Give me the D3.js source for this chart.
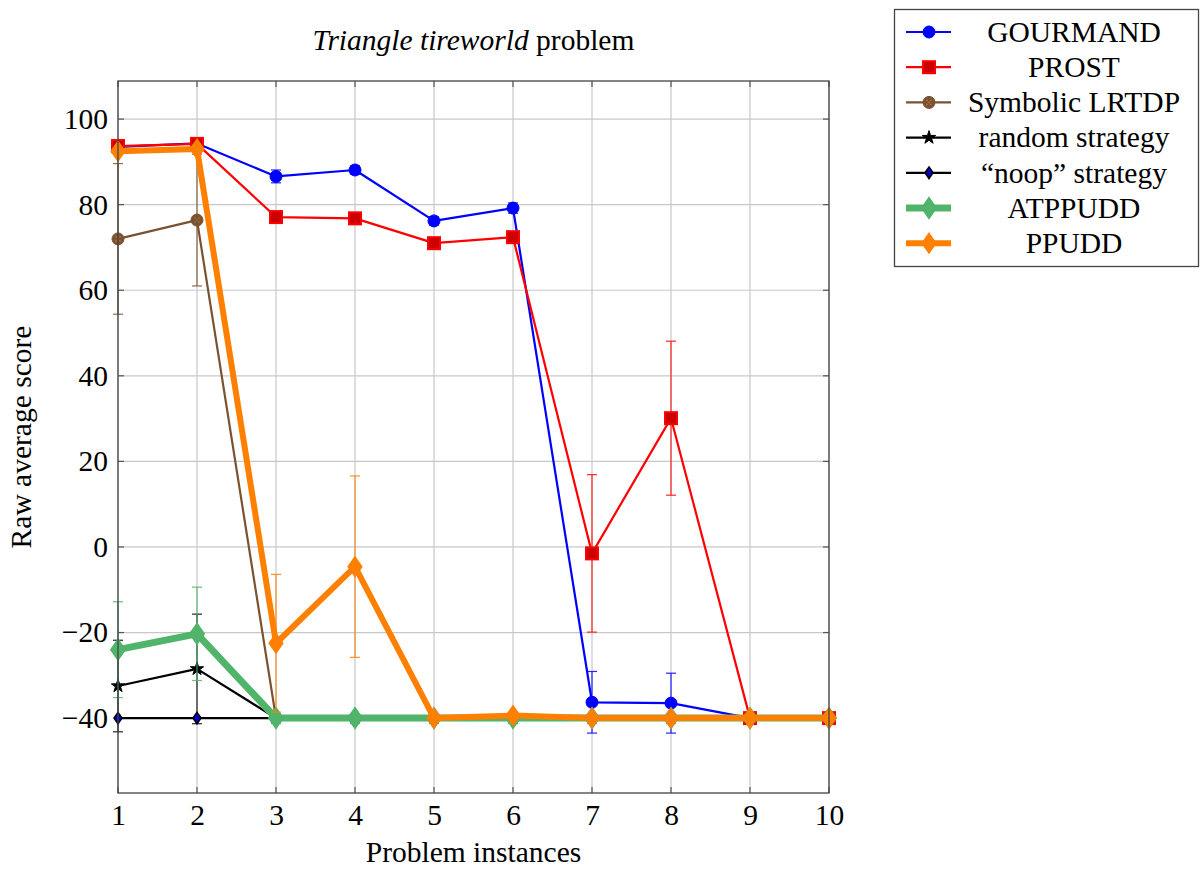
<!DOCTYPE html>
<html><head><meta charset="utf-8">
<script src="https://cdn.jsdelivr.net/npm/d3@7/dist/d3.min.js"></script>
<style>body{margin:0;background:#fff;} svg{display:block;} text{font-family:"Liberation Serif","DejaVu Serif",serif;}</style>
</head><body><svg id="c" width="1200" height="870"></svg>
<script>
const instances = [1,2,3,4,5,6,7,8,9,10];
const yTicks = [-40,-20,0,20,40,60,80,100];
const gourmand    = [93.5, 94.3, 86.6, 88.1, 76.2, 79.2, -36.3, -36.5, -40, -40];
const gourmandErr = [0.5, 0.5, 1.5, 1.0, 1.0, 1.2, 7.2, 7.0, 0, 0];
const prost       = [93.7, 94.2, 77.1, 76.8, 71.0, 72.4, -1.5, 30.1, -40, -40];
const prostErr    = [0.5, 0.5, 1.0, 0.8, 1.0, 1.0, 18.4, 18.0, 0, 0];
const lrtdp       = [72.0, 76.4, -40, -40, -40, -40, -40, -40, -40, -40];
const lrtdpErr    = [17.6, 15.4, 0, 0, 0, 0, 0, 0, 0, 0];
const randomS     = [-32.5, -28.5, -40, -40, -40, -40, -40, -40, -40, -40];
const randomErr   = [10.7, 12.8, 0, 0, 0, 0, 0, 0, 0, 0];
const noop        = [-40, -40, -40, -40, -40, -40, -40, -40, -40, -40];
const noopErr     = [0, 0, 0, 0, 0, 0, 0, 0, 0, 0];
const atppudd     = [-24.0, -20.3, -40, -40, -40, -40, -40, -40, -40, -40];
const atppuddErr  = [11.2, 10.9, 0, 0, 0, 0, 0, 0, 0, 0];
const ppudd       = [92.5, 93.0, -22.5, -4.6, -40, -39.4, -40, -40, -40, -40];
const ppuddErr    = [0.5, 0.5, 16.1, 21.2, 0, 0.5, 0, 0, 0, 0];

const series = [
  {name:"GOURMAND", v:gourmand, e:gourmandErr, color:"#0000ff", lw:2.2, marker:"circle", mfill:"#0000ff", mstroke:"#0000ff", ms:6},
  {name:"PROST", v:prost, e:prostErr, color:"#ff0000", lw:2.2, marker:"square", mfill:"#cc0000", mstroke:"#ff0000", ms:6},
  {name:"Symbolic LRTDP", v:lrtdp, e:lrtdpErr, color:"#7a5230", lw:2.2, marker:"dotcircle", mfill:"#7a5230", mstroke:"#7a5230", ms:6},
  {name:"random strategy", v:randomS, e:randomErr, color:"#000000", lw:2.2, marker:"star", mfill:"#000", mstroke:"#000", ms:5},
  {name:"\u201Cnoop\u201D strategy", v:noop, e:noopErr, color:"#000000", lw:2.2, marker:"diamond", mfill:"#0000cc", mstroke:"#000", ms:5},
  {name:"ATPPUDD", v:atppudd, e:atppuddErr, color:"#50b46a", lw:7, marker:"diamond", mfill:"#50b46a", mstroke:"#50b46a", ms:9},
  {name:"PPUDD", v:ppudd, e:ppuddErr, color:"#ff8000", lw:6, marker:"diamond", mfill:"#ff8000", mstroke:"#ff8000", ms:8.5}
];

const FS = 29.5;
const svg = d3.select("#c");
const L=118, R=829, T=81, B=793;
const x = d3.scaleLinear().domain([1,10]).range([L,R]);
const y = d3.scaleLinear().domain([-57.5,108.9]).range([B,T]);

// grid
const g = svg.append("g");
g.selectAll(".gx").data(instances).join("line").attr("x1",d=>x(d)).attr("x2",d=>x(d)).attr("y1",T).attr("y2",B).attr("stroke","#c8c8c8").attr("stroke-width",1.2);
g.selectAll(".gy").data(yTicks).join("line").attr("x1",L).attr("x2",R).attr("y1",d=>y(d)).attr("y2",d=>y(d)).attr("stroke","#c8c8c8").attr("stroke-width",1.2);

// axes via d3
const fmt = d => d<0 ? "\u2212"+Math.abs(d) : String(d);
const xAxis = svg.append("g").attr("transform",`translate(0,${B})`).call(d3.axisBottom(x).tickValues(instances).tickSize(0).tickPadding(9).tickFormat(d=>d));
const yAxis = svg.append("g").attr("transform",`translate(${L},0)`).call(d3.axisLeft(y).tickValues(yTicks).tickSize(0).tickPadding(10).tickFormat(fmt));
[xAxis,yAxis].forEach(a=>{a.select(".domain").remove(); a.selectAll("text").attr("font-size",FS).attr("fill","#000").style("font-family","'Liberation Serif',serif");});
xAxis.selectAll("text").attr("dy","0.78em");
// inner ticks
const tk = svg.append("g").attr("stroke","#555").attr("stroke-width",1.2);
instances.forEach(d=>{tk.append("line").attr("x1",x(d)).attr("x2",x(d)).attr("y1",B).attr("y2",B-6);tk.append("line").attr("x1",x(d)).attr("x2",x(d)).attr("y1",T).attr("y2",T+6);});
yTicks.forEach(d=>{tk.append("line").attr("x1",L).attr("x2",L+6).attr("y1",y(d)).attr("y2",y(d));tk.append("line").attr("x1",R).attr("x2",R-6).attr("y1",y(d)).attr("y2",y(d));});

function drawMarker(sel, s, cx, cy, scale){
  const k = scale||1, ms = s.ms*k;
  if(s.marker==="circle"){
    sel.append("circle").attr("cx",cx).attr("cy",cy).attr("r",ms).attr("fill",s.mfill).attr("stroke",s.mstroke);
  } else if(s.marker==="dotcircle"){
    sel.append("circle").attr("cx",cx).attr("cy",cy).attr("r",ms).attr("fill",s.mfill).attr("stroke",s.mstroke);
    [[-2,-2],[2,-2],[0,0],[-2,2],[2,2]].forEach(p=>sel.append("circle").attr("cx",cx+p[0]*k).attr("cy",cy+p[1]*k).attr("r",0.8*k).attr("fill","#a87a4a"));
  } else if(s.marker==="square"){
    sel.append("rect").attr("x",cx-ms).attr("y",cy-ms).attr("width",2*ms).attr("height",2*ms).attr("fill",s.mfill).attr("stroke",s.mstroke).attr("stroke-width",2);
  } else if(s.marker==="star"){
    sel.append("path").attr("d",d3.symbol(d3.symbolStar, 55*k*k)()).attr("transform",`translate(${cx},${cy})`).attr("fill",s.mfill).attr("stroke",s.mstroke).attr("stroke-width",1);
  } else if(s.marker==="diamond"){
    const w = ms*0.8, h = ms*1.15;
    sel.append("path").attr("d",`M${cx},${cy-h}L${cx+w},${cy}L${cx},${cy+h}L${cx-w},${cy}Z`).attr("fill",s.mfill).attr("stroke",s.mstroke).attr("stroke-width",s.name.startsWith("\u201C")?1.6:1.5);
  }
}

const plot = svg.append("g");
const line = d3.line().x((d,i)=>x(instances[i])).y(d=>y(d));
series.forEach(s=>{
  const sg = plot.append("g");
  s.v.forEach((v,i)=>{
    const e = s.e[i]; if(!e || e<=0.6) return;
    const cx = x(instances[i]);
    const eg = sg.append("g").attr("stroke",s.color).attr("stroke-width",1.2).attr("opacity",0.85);
    eg.append("line").attr("x1",cx).attr("x2",cx).attr("y1",y(v-e)).attr("y2",y(v+e));
    eg.append("line").attr("x1",cx-5).attr("x2",cx+5).attr("y1",y(v-e)).attr("y2",y(v-e));
    eg.append("line").attr("x1",cx-5).attr("x2",cx+5).attr("y1",y(v+e)).attr("y2",y(v+e));
  });
  sg.append("path").attr("d",line(s.v)).attr("fill","none").attr("stroke",s.color).attr("stroke-width",s.lw).attr("stroke-linejoin","round");
  s.v.forEach((v,i)=>drawMarker(sg,s,x(instances[i]),y(v),1));
});

// frame
svg.append("rect").attr("x",L).attr("y",T).attr("width",R-L).attr("height",B-T).attr("fill","none").attr("stroke","#444").attr("stroke-width",1.3);

// title & labels
const title = svg.append("text").attr("x",(L+R)/2).attr("y",50).attr("text-anchor","middle").attr("font-size",FS);
title.append("tspan").attr("font-style","italic").text("Triangle tireworld");
title.append("tspan").text(" problem");
svg.append("text").attr("x",(L+R)/2).attr("y",862).attr("text-anchor","middle").attr("font-size",FS).text("Problem instances");
svg.append("text").attr("transform",`translate(31,${(T+B)/2}) rotate(-90)`).attr("text-anchor","middle").attr("font-size",FS).text("Raw average score");

// legend
const lg = svg.append("g");
lg.append("rect").attr("x",894.5).attr("y",9.5).attr("width",304).attr("height",257).attr("fill","#fff").attr("stroke","#444").attr("stroke-width",1.3);
series.forEach((s,i)=>{
  const cy = 32 + i*35.2;
  lg.append("line").attr("x1",906).attr("x2",951).attr("y1",cy).attr("y2",cy).attr("stroke",s.color).attr("stroke-width",s.lw);
  drawMarker(lg,s,929,cy,1);
  lg.append("text").attr("x",1074).attr("y",cy).attr("dy","0.33em").attr("text-anchor","middle").attr("font-size",FS).text(s.name);
});
</script></body></html>
